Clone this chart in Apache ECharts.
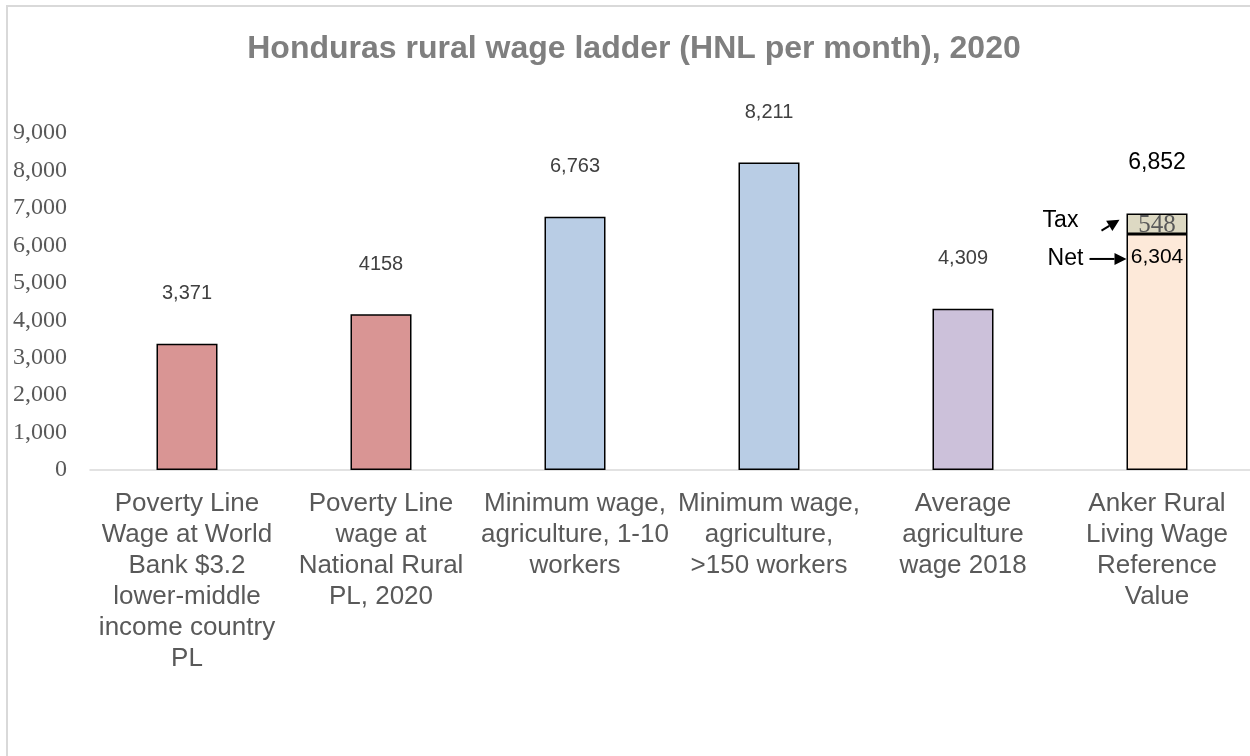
<!DOCTYPE html>
<html>
<head>
<meta charset="utf-8">
<script src="https://cdn.jsdelivr.net/npm/echarts@6/dist/echarts.min.js"></script>
<style>html,body{margin:0;padding:0;background:#fff;overflow:hidden}#c{width:1270px;height:756px}</style>
</head>
<body>
<div id="c"></div>
<script>
const categories = [
  "Poverty Line\nWage at World\nBank $3.2\nlower-middle\nincome country\nPL",
  "Poverty Line\nwage at\nNational Rural\nPL, 2020",
  "Minimum wage,\nagriculture, 1-10\nworkers",
  "Minimum wage,\nagriculture,\n>150 workers",
  "Average\nagriculture\nwage 2018",
  "Anker Rural\nLiving Wage\nReference\nValue"
];
const netValues = [3371, 4158, 6763, 8211, 4309, 6304];
const taxValues = [null, null, null, null, null, 548];
const valueLabels = ["3,371", "4158", "6,763", "8,211", "4,309", "6,304"];
const totalLabel = "6,852";
const barColors = ["#D99594", "#D99594", "#B9CDE5", "#B9CDE5", "#CCC1DA", "#FDE9D9"];
const taxColor = "#DDD9C3";
const yTicks = [0, 1000, 2000, 3000, 4000, 5000, 6000, 7000, 8000, 9000];

const chart = echarts.init(document.getElementById('c'), null, {renderer: 'canvas'});
const last = categories.length - 1;

const option = {
  animation: false,
  backgroundColor: '#fff',
  title: {
    text: 'Honduras rural wage ladder (HNL per month), 2020',
    left: 629, top: 28, textAlign: 'center',
    textStyle: {fontFamily: 'Liberation Sans, Arial', fontWeight: 'bold', fontSize: 32, color: '#7F7F7F'}
  },
  grid: {left: 90, width: 1164, top: 133, bottom: 286, containLabel: false},
  xAxis: {
    type: 'category', data: categories,
    axisLine: {lineStyle: {color: '#D9D9D9', width: 1.5}},
    axisTick: {show: false},
    axisLabel: {interval: 0, margin: 18, color: '#595959', fontFamily: 'Liberation Sans, Arial', fontSize: 26, lineHeight: 31, verticalAlign: 'top'}
  },
  yAxis: {
    type: 'value', min: 0, max: 9000, interval: 1000,
    axisLine: {show: false}, axisTick: {show: false}, splitLine: {show: false},
    axisLabel: {margin: 23, color: '#595959', fontFamily: 'Liberation Serif, serif', fontSize: 24,
      formatter: v => yTicks.includes(v) ? v.toLocaleString('en-US') : ''}
  },
  series: [
    {
      type: 'bar', stack: 's', barWidth: 61,
      data: netValues.map((v, i) => ({
        value: v,
        itemStyle: {color: barColors[i], borderColor: '#000', borderWidth: 1.5},
        label: i === last ? {
          show: true, position: 'insideTop', distance: 13, color: '#000', fontSize: 21,
          fontFamily: 'Liberation Sans, Arial', formatter: valueLabels[i]
        } : {
          show: true, position: 'top', distance: 40, color: '#404040', fontSize: 20,
          fontFamily: 'Liberation Sans, Arial', formatter: valueLabels[i]
        }
      }))
    },
    {
      type: 'bar', stack: 's', barWidth: 61,
      data: taxValues.map((v, i) => v == null ? null : ({
        value: v,
        itemStyle: {color: taxColor, borderColor: '#000', borderWidth: 1.5},
        label: {
          show: true, position: 'inside', offset: [0, 2], color: '#595959', fontSize: 25,
          fontFamily: 'Liberation Serif, serif', formatter: String(v)
        }
      }))
    },
    {
      type: 'bar', stack: 's', barWidth: 61, silent: true,
      data: taxValues.map((v, i) => v == null ? null : ({
        value: 0, itemStyle: {color: 'transparent'},
        label: {show: true, position: 'top', distance: 39, color: '#000', fontSize: 23,
          fontFamily: 'Liberation Sans, Arial', formatter: totalLabel}
      }))
    }
  ]
};
chart.setOption(option);

// annotations "Tax" and "Net" with arrows, positioned from the axes
const net = netValues[last], tax = taxValues[last];
const topNet = chart.convertToPixel({gridIndex: 0}, [last, net]);
const topTax = chart.convertToPixel({gridIndex: 0}, [last, net + tax]);
const barLeft = topNet[0] - 30.5;
const taxMidY = (topNet[1] + topTax[1]) / 2;
function arrow(x1, y1, x2, y2) {
  const ang = Math.atan2(y2 - y1, x2 - x1), L = 12, W = 6;
  const bx = x2 - L * Math.cos(ang), by = y2 - L * Math.sin(ang);
  const nx = -Math.sin(ang), ny = Math.cos(ang);
  return [
    {type: 'line', shape: {x1, y1, x2: bx, y2: by}, style: {stroke: '#000', lineWidth: 2}},
    {type: 'polygon', shape: {points: [[x2, y2], [bx + nx * W, by + ny * W], [bx - nx * W, by - ny * W]]}, style: {fill: '#000'}}
  ];
}
chart.setOption({
  graphic: [
    {type: 'line', shape: {x1: 7, y1: 6, x2: 7, y2: 756}, style: {stroke: '#D9D9D9', lineWidth: 2}},
    {type: 'line', shape: {x1: 6, y1: 6, x2: 1270, y2: 6}, style: {stroke: '#D9D9D9', lineWidth: 2}},
    {type: 'text', x: barLeft - 66, y: taxMidY - 3, style: {text: 'Tax', font: '23px Liberation Sans, Arial', fill: '#000', textAlign: 'center', textVerticalAlign: 'middle'}},
    ...arrow(barLeft - 25, taxMidY + 7, barLeft - 7, taxMidY - 4),
    {type: 'text', x: barLeft - 61, y: topNet[1] + 25, style: {text: 'Net', font: '23px Liberation Sans, Arial', fill: '#000', textAlign: 'center', textVerticalAlign: 'middle'}},
    ...arrow(barLeft - 37, topNet[1] + 25, barLeft, topNet[1] + 25)
  ]
});
</script>
</body>
</html>
